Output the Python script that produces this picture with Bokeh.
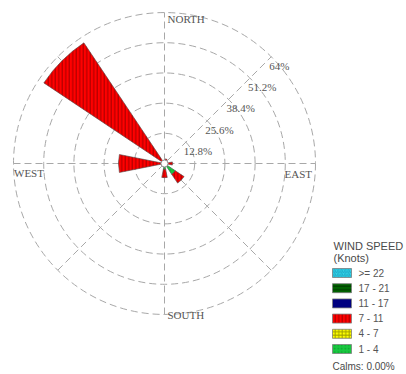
import numpy as np
from bokeh.plotting import figure
from bokeh.models import ColumnDataSource, Range1d
from bokeh.core.properties import value
from bokeh.embed import file_html
from bokeh.resources import INLINE

# ---------------- data ----------------
directions = ["N", "NNE", "NE", "ENE", "E", "ESE", "SE", "SSE",
              "S", "SSW", "SW", "WSW", "W", "WNW", "NW", "NNW"]
bearings = [0, 22.5, 45, 67.5, 90, 112.5, 135, 157.5,
            180, 202.5, 225, 247.5, 270, 292.5, 315, 337.5]
speed_1_4 = [0, 0, 0, 0, 0, 0, 5.5, 0, 2.5, 0, 0, 0, 0, 0, 0, 0]
speed_4_7 = [0, 0, 0, 0, 0, 0, 0, 0, 0, 0, 0, 0, 0, 0, 0, 0]
speed_7_11 = [0, 2.0, 0, 0, 3.4, 0, 4.5, 0, 3.5, 0, 0, 0, 19.5, 0, 61.5, 0]
speed_11_17 = [0, 0, 0, 0, 0, 0, 0, 0, 0, 0, 0, 0, 0, 0, 0, 0]
speed_17_21 = [0, 0, 0, 0, 0, 0, 0, 0, 0, 0, 0, 0, 0, 0, 0, 0]
speed_22 = [0, 0, 0, 0, 0, 0, 0, 0, 0, 0, 0, 0, 0, 0, 0, 0]
band_labels = ["1 - 4", "4 - 7", "7 - 11", "11 - 17", "17 - 21", ">= 22"]
ring_values = [12.8, 25.6, 38.4, 51.2, 64.0]
ring_labels = ["12.8%", "25.6%", "38.4%", "51.2%", "64%"]
compass_labels = ["NORTH", "EAST", "SOUTH", "WEST"]
calms_pct = 0.0

# ---------------- styles ----------------
band_series = [speed_1_4, speed_4_7, speed_7_11, speed_11_17, speed_17_21, speed_22]
band_fill = ["#19c840", "#ffff00", "#ff0000", "#000080", "#006400", "#33d6e8"]
band_hatch = [".", "+", "|", " ", "-", "/"]
band_hatch_color = ["#0a9a2a", "#8a8a00", "#8a0000", "#000080", "#002a00", "#1aa0c0"]

W, H = 406, 374
CX, CY = 164, 163          # pixel position of rose centre
RMAX_PX = 151.0            # pixel radius of outer ring
RMAX = ring_values[-1]
S = RMAX_PX / RMAX         # pixels per percent

def px_x(px):
    return (px - CX) / S

def px_y(py):
    return (CY - py) / S

p = figure(width=W, height=H, output_backend="svg", toolbar_location=None,
           x_range=Range1d(px_x(0), px_x(W)), y_range=Range1d(px_y(H), px_y(0)),
           min_border=0, x_axis_location=None, y_axis_location=None,
           outline_line_color=None, background_fill_color="white")
p.grid.visible = False

grid_color = "#a8a8a8"
grid_dash = "7 4"

# rings
p.circle(x=[0] * len(ring_values), y=[0] * len(ring_values), radius=ring_values,
         fill_color=None, line_color=grid_color, line_dash=grid_dash, line_width=1)

# spokes every 45 degrees
for ang in [0, 45, 90, 135]:
    a = np.deg2rad(ang)
    p.line([-RMAX * np.cos(a), RMAX * np.cos(a)], [-RMAX * np.sin(a), RMAX * np.sin(a)],
           line_color=grid_color, line_dash=grid_dash, line_width=1)

# wedges (stacked)
half = np.deg2rad(11.25)
cum = np.zeros(len(directions))
for vals, fc, hp, hc in zip(band_series, band_fill, band_hatch, band_hatch_color):
    vals = np.array(vals, dtype=float)
    mask = vals > 0
    if mask.any():
        centers = np.deg2rad(90 - np.array(bearings))[mask]
        src = ColumnDataSource(dict(inner=cum[mask], outer=(cum + vals)[mask],
                                    start=centers - half, end=centers + half))
        p.annular_wedge(x=0, y=0, inner_radius="inner", outer_radius="outer",
                        start_angle="start", end_angle="end", source=src,
                        fill_color=fc, line_color="#505050", line_width=0.6,
                        hatch_pattern=hp, hatch_color=hc, hatch_scale=3.5,
                        hatch_weight=1.0, hatch_alpha=0.8)
    cum = cum + vals

# calm hub
p.circle(x=[0], y=[0], radius=1.5, fill_color="white", line_color="#909090", line_width=1)

# ring labels along NE spoke
c45 = np.cos(np.deg2rad(45))
rl = ColumnDataSource(dict(x=[v * c45 - 2 / S for v in ring_values],
                           y=[v * c45 - 9 / S for v in ring_values],
                           t=ring_labels))
p.text(x="x", y="y", text="t", source=rl, text_font=value("Liberation Serif"),
       text_font_size="11px", text_color="#555555", text_baseline="middle",
       text_align="left")

# compass labels
serif = dict(text_font=value("Liberation Serif"), text_font_size="11px",
             text_color="#555555", text_baseline="middle")
p.text(x=[px_x(CX + 3)], y=[RMAX - 6.5 / S], text=[compass_labels[0]], text_align="left", **serif)
p.text(x=[RMAX - 3.5 / S], y=[-10 / S], text=[compass_labels[1]], text_align="right", **serif)
p.text(x=[px_x(CX + 3)], y=[-RMAX], text=[compass_labels[2]], text_align="left", **serif)
p.text(x=[-RMAX + 0.5 / S], y=[-9.5 / S], text=[compass_labels[3]], text_align="left", **serif)

# legend
sans = dict(text_font=value("Liberation Sans"), text_baseline="middle", text_align="left")
p.text(x=[px_x(333)], y=[px_y(245)], text=["WIND SPEED"], text_font_size="11px",
       text_color="#4a4a4a", **sans)
p.text(x=[px_x(333)], y=[px_y(257)], text=["(Knots)"], text_font_size="11px",
       text_color="#4a4a4a", **sans)
rows = list(range(len(band_labels)))[::-1]     # >=22 on top
for k, i in enumerate(rows):
    yc = 272.5 + 15.2 * k
    p.rect(x=[px_x(341.5)], y=[px_y(yc)], width=19 / S, height=9 / S,
           fill_color=band_fill[i], line_color="#808080", line_width=0.8,
           hatch_pattern=band_hatch[i], hatch_color=band_hatch_color[i],
           hatch_scale=3.5, hatch_weight=1.0, hatch_alpha=0.8)
    p.text(x=[px_x(358)], y=[px_y(yc)], text=[band_labels[i]], text_font_size="10px",
           text_color="#555555", **sans)
p.text(x=[px_x(332)], y=[px_y(366)], text=["Calms: %.2f%%" % calms_pct],
       text_font_size="10px", text_color="#4a4a4a", **sans)

open("out.html", "w").write(file_html(p, INLINE))
